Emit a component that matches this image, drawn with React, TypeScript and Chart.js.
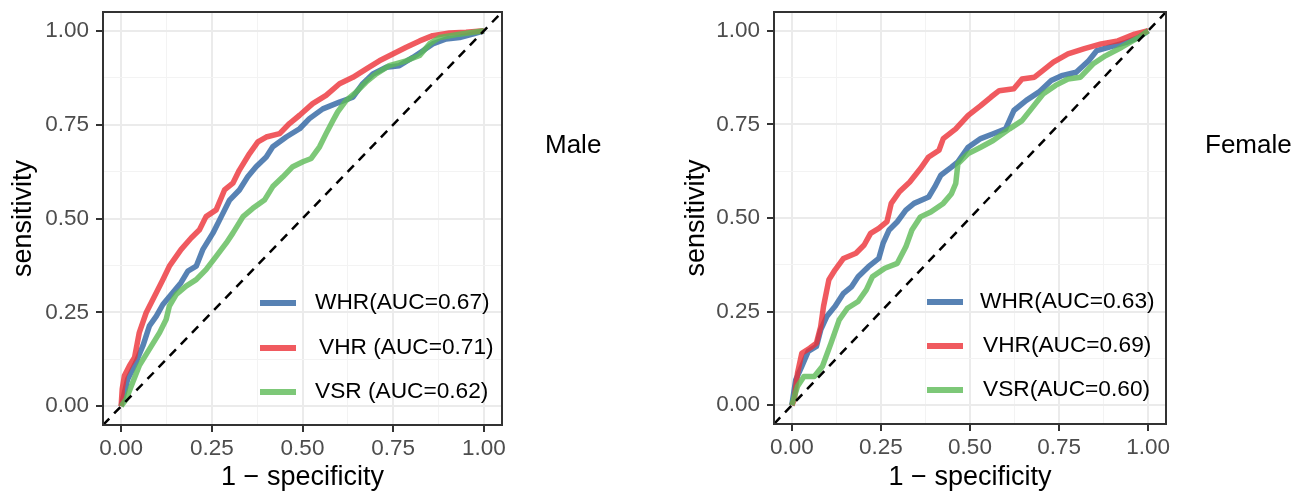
import React, { useEffect, useRef } from 'react';
import { Chart, registerables } from 'chart.js';

Chart.register(...registerables);

// ---- axes / ticks ----
const GRID_VALUES = [0, 0.125, 0.25, 0.375, 0.5, 0.625, 0.75, 0.875, 1];
const MAJOR_TICKS = [0, 0.25, 0.5, 0.75, 1];
const TICK_LABELS = ['0.00', '0.25', '0.50', '0.75', '1.00'];
const X_TITLE = '1 \u2212 specificity';
const Y_TITLE = 'sensitivity';

// ---- series ----
const SERIES = ['WHR', 'VHR', 'VSR'];
const COLORS = ['rgba(45,99,161,0.8)', 'rgba(236,49,55,0.8)', 'rgba(92,186,86,0.8)'];

const MALE_LEGEND = ['WHR(AUC=0.67)', 'VHR (AUC=0.71)', 'VSR (AUC=0.62)'];
const FEMALE_LEGEND = ['WHR(AUC=0.63)', 'VHR(AUC=0.69)', 'VSR(AUC=0.60)'];

// Male
const maleWhrFpr = [0, 0.018, 0.041, 0.06, 0.078, 0.097, 0.115, 0.142, 0.165, 0.184, 0.207, 0.225, 0.253, 0.276, 0.299, 0.326, 0.349, 0.372, 0.4, 0.418, 0.455, 0.492, 0.519, 0.556, 0.602, 0.639, 0.666, 0.694, 0.731, 0.767, 0.804, 0.832, 0.859, 0.896, 0.933, 0.969, 1];
const maleWhrTpr = [0, 0.072, 0.117, 0.161, 0.214, 0.24, 0.271, 0.302, 0.329, 0.36, 0.373, 0.417, 0.461, 0.505, 0.549, 0.576, 0.611, 0.638, 0.664, 0.691, 0.717, 0.739, 0.766, 0.792, 0.81, 0.823, 0.859, 0.885, 0.903, 0.907, 0.929, 0.947, 0.965, 0.978, 0.982, 0.991, 1];
const maleVhrFpr = [0, 0.003, 0.009, 0.023, 0.037, 0.05, 0.069, 0.092, 0.115, 0.133, 0.165, 0.193, 0.216, 0.234, 0.262, 0.285, 0.308, 0.326, 0.354, 0.377, 0.4, 0.437, 0.464, 0.492, 0.528, 0.565, 0.602, 0.639, 0.675, 0.712, 0.749, 0.786, 0.823, 0.859, 0.905, 0.951, 1];
const maleVhrTpr = [0, 0.046, 0.081, 0.108, 0.13, 0.196, 0.249, 0.293, 0.337, 0.373, 0.417, 0.448, 0.47, 0.505, 0.523, 0.576, 0.594, 0.629, 0.673, 0.704, 0.717, 0.726, 0.753, 0.775, 0.806, 0.828, 0.859, 0.876, 0.898, 0.92, 0.938, 0.956, 0.973, 0.987, 0.994, 0.996, 1];
const maleVsrFpr = [0, 0.014, 0.032, 0.05, 0.078, 0.106, 0.124, 0.133, 0.152, 0.179, 0.207, 0.234, 0.262, 0.29, 0.308, 0.336, 0.363, 0.395, 0.418, 0.446, 0.473, 0.501, 0.524, 0.547, 0.565, 0.584, 0.597, 0.62, 0.648, 0.675, 0.703, 0.739, 0.786, 0.823, 0.85, 0.878, 0.933, 1];
const maleVsrTpr = [0, 0.019, 0.064, 0.108, 0.152, 0.196, 0.231, 0.267, 0.298, 0.32, 0.337, 0.364, 0.399, 0.435, 0.461, 0.505, 0.527, 0.549, 0.585, 0.611, 0.638, 0.651, 0.66, 0.691, 0.726, 0.761, 0.784, 0.814, 0.837, 0.863, 0.885, 0.907, 0.92, 0.934, 0.965, 0.982, 0.991, 1];

// Female
const femaleWhrFpr = [0, 0.011, 0.028, 0.046, 0.069, 0.081, 0.098, 0.121, 0.145, 0.168, 0.186, 0.215, 0.244, 0.256, 0.273, 0.296, 0.32, 0.343, 0.384, 0.401, 0.418, 0.448, 0.466, 0.495, 0.53, 0.565, 0.6, 0.623, 0.658, 0.693, 0.728, 0.757, 0.798, 0.833, 0.856, 0.891, 0.938, 0.973, 1];
const femaleWhrTpr = [0, 0.068, 0.104, 0.144, 0.157, 0.201, 0.237, 0.264, 0.299, 0.317, 0.343, 0.37, 0.392, 0.432, 0.468, 0.49, 0.521, 0.539, 0.556, 0.583, 0.614, 0.636, 0.65, 0.689, 0.712, 0.725, 0.738, 0.787, 0.814, 0.836, 0.867, 0.88, 0.889, 0.92, 0.947, 0.956, 0.969, 0.982, 1];
const femaleVhrFpr = [0, 0.007, 0.016, 0.028, 0.051, 0.069, 0.081, 0.089, 0.104, 0.121, 0.145, 0.18, 0.203, 0.221, 0.244, 0.267, 0.279, 0.302, 0.331, 0.361, 0.384, 0.413, 0.425, 0.46, 0.495, 0.53, 0.559, 0.582, 0.623, 0.646, 0.681, 0.705, 0.734, 0.775, 0.821, 0.868, 0.915, 0.962, 1];
const femaleVhrTpr = [0, 0.015, 0.086, 0.139, 0.153, 0.166, 0.21, 0.264, 0.335, 0.361, 0.392, 0.406, 0.428, 0.459, 0.472, 0.49, 0.539, 0.57, 0.596, 0.632, 0.663, 0.681, 0.712, 0.738, 0.774, 0.8, 0.823, 0.84, 0.845, 0.871, 0.876, 0.894, 0.916, 0.938, 0.952, 0.965, 0.973, 0.991, 1];
const femaleVsrFpr = [0, 0.016, 0.034, 0.063, 0.086, 0.11, 0.133, 0.156, 0.186, 0.209, 0.226, 0.261, 0.296, 0.32, 0.337, 0.361, 0.39, 0.425, 0.448, 0.46, 0.466, 0.495, 0.53, 0.565, 0.611, 0.646, 0.676, 0.705, 0.74, 0.775, 0.81, 0.845, 0.88, 0.926, 0.973, 1];
const femaleVsrTpr = [0, 0.051, 0.077, 0.077, 0.104, 0.166, 0.228, 0.259, 0.277, 0.308, 0.343, 0.366, 0.379, 0.423, 0.468, 0.503, 0.516, 0.539, 0.565, 0.592, 0.645, 0.672, 0.689, 0.707, 0.738, 0.76, 0.796, 0.831, 0.854, 0.871, 0.876, 0.911, 0.933, 0.956, 0.982, 1];

const DIAGONAL = [-0.05, 1.05];

const FONT = '"Liberation Sans", Arial, sans-serif';

function zip(xs: number[], ys: number[]) {
  const n = Math.min(xs.length, ys.length);
  const out: { x: number; y: number }[] = [];
  for (let i = 0; i < n; i++) out.push({ x: xs[i], y: ys[i] });
  return out;
}

const isMajor = (v: number) => MAJOR_TICKS.some((m) => Math.abs(m - v) < 1e-9);

type PanelProps = {
  left: number;
  width: number;
  yAxisWidth: number;
  areaRight: number;
  areaTop: number;
  areaBottom: number;
  yTitlePad: number;
  facet: string;
  facetX: number;
  facetY: number;
  legend: string[];
  legendKeyX: [number, number];
  legendTextX: number[];
  legendY: number[];
  curves: { x: number; y: number }[][];
};

function Panel(p: PanelProps) {
  const ref = useRef<HTMLCanvasElement | null>(null);
  useEffect(() => {
    const canvas = ref.current!;
    const H = 495;
    const overlay = {
      id: 'overlay',
      afterDatasetsDraw(chart: any) {
        const { ctx, chartArea: a } = chart;
        ctx.save();
        ctx.strokeStyle = '#333333';
        ctx.lineWidth = 2;
        ctx.strokeRect(a.left, a.top, a.right - a.left, a.bottom - a.top);
        ctx.restore();
      },
      afterDraw(chart: any) {
        const { ctx } = chart;
        ctx.save();
        // legend
        for (let i = 0; i < p.legend.length; i++) {
          const y = p.legendY[i];
          ctx.strokeStyle = COLORS[i];
          ctx.lineWidth = 6;
          ctx.lineCap = 'butt';
          ctx.beginPath();
          ctx.moveTo(p.legendKeyX[0], y);
          ctx.lineTo(p.legendKeyX[1], y);
          ctx.stroke();
          ctx.fillStyle = '#000000';
          ctx.font = `22.7px ${FONT}`;
          ctx.textAlign = 'left';
          ctx.textBaseline = 'middle';
          ctx.fillText(p.legend[i], p.legendTextX[i], y);
        }
        // facet label
        ctx.fillStyle = '#000000';
        ctx.font = `26px ${FONT}`;
        ctx.textAlign = 'left';
        ctx.textBaseline = 'middle';
        ctx.fillText(p.facet, p.facetX, p.facetY);
        ctx.restore();
      },
    };

    const axisCommon = (isX: boolean) => ({
      type: 'linear' as const,
      min: -0.05,
      max: 1.05,
      afterBuildTicks: (axis: any) => {
        axis.ticks = GRID_VALUES.map((v) => ({ value: v }));
      },
      afterFit: (axis: any) => {
        if (isX) axis.height = H - p.areaBottom;
        else axis.width = p.yAxisWidth;
        axis.paddingTop = 0;
        axis.paddingBottom = 0;
        axis.paddingLeft = 0;
        axis.paddingRight = 0;
      },
      border: { display: false },
      grid: {
        color: (c: any) => (isMajor(c.tick.value) ? '#ebebeb' : '#f3f3f3'),
        lineWidth: (c: any) => (isMajor(c.tick.value) ? 2 : 1),
        drawTicks: true,
        tickLength: 7,
        tickColor: (c: any) => (isMajor(c.tick.value) ? '#333333' : 'rgba(0,0,0,0)'),
        tickWidth: 2,
      },
      ticks: {
        autoSkip: false,
        maxRotation: 0,
        minRotation: 0,
        padding: isX ? 3 : 7,
        color: '#4d4d4d',
        font: { family: FONT, size: 22.5 },
        callback: (v: any) => {
          const i = MAJOR_TICKS.findIndex((m) => Math.abs(m - v) < 1e-9);
          return i >= 0 ? TICK_LABELS[i] : '';
        },
      },
      title: {
        display: true,
        text: isX ? X_TITLE : Y_TITLE,
        color: '#000000',
        font: { family: FONT, size: 27 },
        padding: isX ? { top: 0, bottom: 1 } : { top: p.yTitlePad, bottom: 0 },
      },
    });

    const datasets: any[] = p.curves.map((pts, i) => ({
      label: SERIES[i],
      data: pts,
      borderColor: COLORS[i],
      borderWidth: 5.5,
      pointRadius: 0,
      tension: 0,
      fill: false,
      borderJoinStyle: 'round',
      order: 3 - i,
    }));
    datasets.push({
      label: 'diagonal',
      data: zip(DIAGONAL, DIAGONAL),
      borderColor: '#000000',
      borderWidth: 2.5,
      borderDash: [9, 7],
      pointRadius: 0,
      fill: false,
      order: 0,
    });

    const chart = new Chart(canvas, {
      type: 'line',
      data: { datasets },
      options: {
        animation: false,
        responsive: false,
        devicePixelRatio: 1,
        layout: { padding: { left: 0, top: p.areaTop, right: p.width - p.areaRight, bottom: 0 } },
        plugins: { legend: { display: false }, tooltip: { enabled: false } },
        scales: { x: axisCommon(true), y: axisCommon(false) } as any,
      },
      plugins: [overlay],
    });
    return () => chart.destroy();
  }, []);
  return (
    <canvas
      ref={ref}
      width={p.width}
      height={495}
      style={{ position: 'absolute', left: p.left, top: 0, width: p.width, height: 495 }}
    />
  );
}

export default function App() {
  return (
    <div style={{ position: 'absolute', left: 0, top: 0, width: 1310, height: 495, background: '#ffffff' }}>
      <Panel
        left={0}
        width={640}
        yAxisWidth={103}
        areaRight={502}
        areaTop={12}
        areaBottom={425}
        yTitlePad={7}
        facet="Male"
        facetX={545}
        facetY={146}
        legend={MALE_LEGEND}
        legendKeyX={[260, 296]}
        legendTextX={[315, 319, 315]}
        legendY={[303, 348, 392]}
        curves={[zip(maleWhrFpr, maleWhrTpr), zip(maleVhrFpr, maleVhrTpr), zip(maleVsrFpr, maleVsrTpr)]}
      />
      <Panel
        left={670}
        width={640}
        yAxisWidth={104}
        areaRight={496}
        areaTop={12}
        areaBottom={424}
        yTitlePad={10}
        facet="Female"
        facetX={535}
        facetY={146}
        legend={FEMALE_LEGEND}
        legendKeyX={[257, 293]}
        legendTextX={[310, 313, 313]}
        legendY={[302, 346, 390]}
        curves={[zip(femaleWhrFpr, femaleWhrTpr), zip(femaleVhrFpr, femaleVhrTpr), zip(femaleVsrFpr, femaleVsrTpr)]}
      />
    </div>
  );
}
